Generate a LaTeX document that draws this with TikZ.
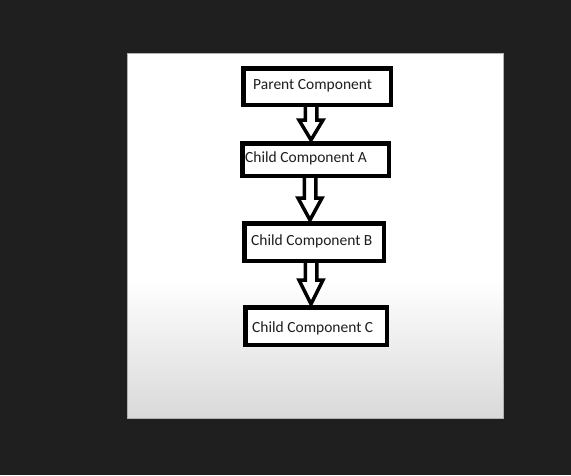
\documentclass[tikz,border=0pt]{standalone}
\usepackage{fontspec}
\setmainfont{Carlito}
\usetikzlibrary{calc}
\definecolor{bg}{HTML}{1F1F1F}
\definecolor{panelbot}{HTML}{D9D9D9}
\definecolor{txt}{HTML}{1E1E1E}
\pgfdeclarelayer{back}
\pgfdeclarelayer{mid}
\pgfsetlayers{back,mid,main}
\newcommand\blockarr[4]{%
  \draw[blockarrow] ($(#1.south -| #3)+(-5.75,-3)$) -- ($(#2.north -| #3)+(-5.75,-#4)$)
    -- ($(#2.north -| #3)+(-12,-#4)$) -- ($(#2.north -| #3)+(0,-1)$)
    -- ($(#2.north -| #3)+(12,-#4)$) -- ($(#2.north -| #3)+(5.75,-#4)$)
    -- ($(#1.south -| #3)+(5.75,-3)$);}
\begin{document}
\begin{tikzpicture}[x=1pt,y=-1pt,
  box/.style={draw=black, line width=4.5pt, fill=white, inner sep=0pt},
  lbl/.style={anchor=west, font=\fontsize{15.5}{18}\selectfont, text=txt, inner sep=0pt},
  blockarrow/.style={draw=black, line width=3.5pt, fill=white, line join=miter}]
\useasboundingbox (0,0) rectangle (571,475);
\begin{pgfonlayer}{back}
\fill[bg] (0,0) rectangle (571,475);
\fill[white] (127,53) rectangle (503,281);
\shade[top color=white, bottom color=panelbot] (127,280) rectangle (503,418);
\draw[gray!60, line width=1pt] (127,53) rectangle (503,418);
\end{pgfonlayer}
\coordinate (c1) at (311,0);
\coordinate (c2) at (310,0);
\coordinate (c3) at (311,0);
\node[box, minimum width=147.5pt, minimum height=36.5pt] (p) at (317,86.5) {};
\node[box, minimum width=146.5pt, minimum height=32.5pt] (a) at (315.5,159.5) {};
\node[box, minimum width=139.5pt, minimum height=37.5pt] (b) at (314,242) {};
\node[box, minimum width=141.5pt, minimum height=37.5pt] (c) at (316,326) {};
\begin{pgfonlayer}{mid}
\blockarr{p}{a}{c1}{21}
\blockarr{a}{b}{c2}{23}
\blockarr{b}{c}{c3}{25}
\end{pgfonlayer}
\node[lbl] (pl) at ($(p.west)+(12,-1)$) {Parent Component};
\node[lbl] (al) at ($(a.west)+(5,-1)$) {Child Component A};
\node[lbl] (bl) at ($(b.west)+(9,-1)$) {Child Component B};
\node[lbl] (cl) at ($(c.west)+(9,2)$) {Child Component C};
\end{tikzpicture}
\end{document}
